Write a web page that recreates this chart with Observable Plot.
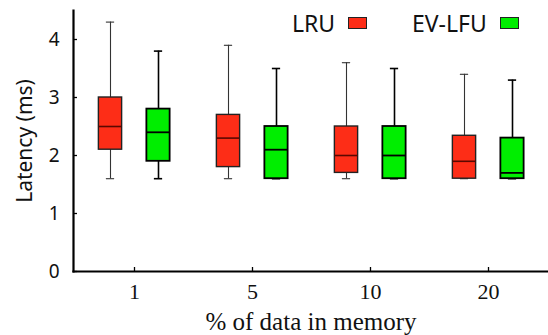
<!DOCTYPE html>
<html><head><meta charset="utf-8">
<script src="https://cdn.jsdelivr.net/npm/d3@7"></script>
<script src="https://cdn.jsdelivr.net/npm/@observablehq/plot@0.6"></script>
<style>
body{margin:0;background:#fff;}
#wrap{position:relative;width:548px;height:335px;}
.leg{position:absolute;top:8px;font-family:"Noto Sans",sans-serif;font-size:23px;color:#111;display:flex;align-items:center;height:30px;}
.sw{display:inline-block;width:19px;height:12px;border:1.5px solid #222;margin-left:13px;box-sizing:border-box;}
</style></head><body>
<div id="wrap"></div>
<script>
const categories = ["1", "5", "10", "20"];
const series = ["LRU", "EV-LFU"];
const colors = ["#fd2d17", "#00ee00"];
// per category: [min, q1, median, q3, max]
const lruStats = [[1.6, 2.1, 2.5, 3.0, 4.3], [1.6, 1.8, 2.3, 2.7, 3.9], [1.6, 1.7, 2.0, 2.5, 3.6], [1.6, 1.6, 1.9, 2.34, 3.4]];
const evStats  = [[1.6, 1.9, 2.4, 2.8, 3.8], [1.6, 1.6, 2.1, 2.5, 3.5], [1.6, 1.6, 2.0, 2.5, 3.5], [1.6, 1.6, 1.7, 2.3, 3.3]];
const yTicks = [0, 1, 2, 3, 4];

const toRows = (stats, s) => stats.map((v, i) => ({cat: categories[i], series: s, min: v[0], q1: v[1], med: v[2], q3: v[3], max: v[4]}));
const lru = toRows(lruStats, series[0]);
const ev = toRows(evStats, series[1]);

const W = 548, H = 335, mL = 73, mR = 0, mT = 10, mB = 64;
const band = (W - mL - mR) / categories.length;
const boxW = 24, capW = 9, off = 24;
const boxInset = (band - boxW) / 2, capInset = (band - capW) / 2;

function boxMarks(data, dx, color, thick) {
  const sw = thick ? 1.6 : 1.1;
  const ws = thick ? "#000" : "#333";
  return [
    Plot.ruleX(data, {x: "cat", y1: "min", y2: "max", dx, stroke: ws, strokeWidth: sw}),
    Plot.tickY(data, {x: "cat", y: "min", dx, inset: capInset, stroke: ws, strokeWidth: sw}),
    Plot.tickY(data, {x: "cat", y: "max", dx, inset: capInset, stroke: ws, strokeWidth: sw}),
    Plot.barY(data, {x: "cat", y1: "q1", y2: "q3", dx, insetLeft: boxInset, insetRight: boxInset, fill: color, stroke: thick ? "#000" : "#222", strokeWidth: thick ? 1.8 : 1.4}),
    Plot.tickY(data, {x: "cat", y: "med", dx, inset: boxInset, stroke: thick ? "#000" : "#5a0800", strokeWidth: thick ? 1.8 : 1.6})
  ];
}

const chart = Plot.plot({
  width: W, height: H,
  marginLeft: mL, marginRight: mR, marginTop: mT, marginBottom: mB,
  x: {domain: categories, padding: 0},
  y: {domain: [0, 4.5]},
  marks: [
    Plot.axisY({ticks: yTicks, tickFormat: "d", tickSize: 0, tickPadding: 14, fontSize: 19, fontFamily: "Noto Sans", label: "Latency (ms)", labelAnchor: "center", labelArrow: "none", labelOffset: 56, color: "#111"}),
    Plot.axisY({ticks: yTicks, tickSize: 4, dx: 4, text: null, label: null, stroke: "#000", strokeWidth: 1.3}),
    Plot.axisX({tickSize: 0, tickPadding: 12, fontSize: 22, fontFamily: "Liberation Serif", label: "% of data in memory", labelAnchor: "center", labelArrow: "none", labelOffset: 58, color: "#111"}),
    Plot.axisX({tickSize: 4, dy: -4, text: null, label: null, stroke: "#000", strokeWidth: 1.3}),
    ...boxMarks(lru, -off, colors[0], false),
    ...boxMarks(ev, off, colors[1], true),
    Plot.frame({anchor: "left", stroke: "#000", strokeWidth: 2.2}),
    Plot.frame({anchor: "bottom", stroke: "#000", strokeWidth: 2.2})
  ]
});
const wrap = document.getElementById("wrap");
wrap.appendChild(chart);
chart.querySelectorAll("[aria-label='y-axis label']").forEach(e => {e.setAttribute("font-size", 21);});
chart.querySelectorAll("[aria-label='x-axis label']").forEach(e => {e.setAttribute("font-size", 25);});

const lefts = [292, 412];
series.forEach((s, i) => {
  const d = document.createElement("div");
  d.className = "leg";
  d.style.left = lefts[i] + "px";
  d.innerHTML = `<span>${s}</span><span class="sw" style="background:${colors[i]}"></span>`;
  wrap.appendChild(d);
});
</script></body></html>
